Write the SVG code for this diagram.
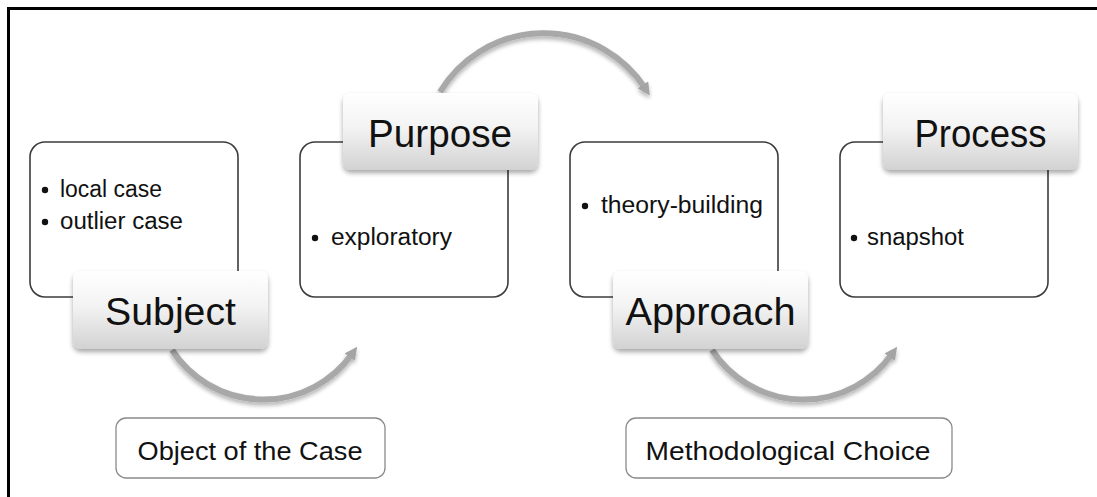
<svg xmlns="http://www.w3.org/2000/svg" width="1097" height="497" viewBox="0 0 1097 497">
<defs>
<linearGradient id="lblGrad" x1="0" y1="0" x2="0" y2="1">
<stop offset="0" stop-color="#ffffff"/>
<stop offset="0.45" stop-color="#f3f3f3"/>
<stop offset="1" stop-color="#d2d2d2"/>
</linearGradient>
<filter id="shadow" x="-10%" y="-10%" width="120%" height="130%">
<feGaussianBlur in="SourceAlpha" stdDeviation="2.5"/>
<feOffset dx="0" dy="3" result="b"/>
<feComponentTransfer><feFuncA type="linear" slope="0.35"/></feComponentTransfer>
<feMerge><feMergeNode/><feMergeNode in="SourceGraphic"/></feMerge>
</filter>
<filter id="arrowShadow" x="-20%" y="-20%" width="140%" height="160%">
<feGaussianBlur in="SourceAlpha" stdDeviation="2"/>
<feOffset dx="0" dy="3" result="b"/>
<feComponentTransfer><feFuncA type="linear" slope="0.3"/></feComponentTransfer>
<feMerge><feMergeNode/><feMergeNode in="SourceGraphic"/></feMerge>
</filter>
<marker id="head" viewBox="0 0 10 10" refX="3" refY="5" markerWidth="2.1" markerHeight="2.1" orient="auto">
<path d="M0,0 L10,5 L0,10 z" fill="#a4a4a4"/>
</marker>
</defs>
<style>
.frame{fill:none;stroke:#000;stroke-width:3}
.box{fill:#fff;stroke:#3c3c3c;stroke-width:1.6}
.lbl{fill:url(#lblGrad);filter:url(#shadow)}
.big{font-family:"Liberation Sans",Arial,sans-serif;font-size:39px;fill:#111;text-anchor:middle}
.item{font-family:"Liberation Sans",Arial,sans-serif;font-size:23px;fill:#111}
.cap{font-family:"Liberation Sans",Arial,sans-serif;font-size:26px;fill:#111;text-anchor:middle}
.sub{fill:#fff;stroke:#8a8a8a;stroke-width:1.3}
.arc{fill:none;stroke:#a8a8a8;stroke-width:6;marker-end:url(#head)}
</style>
<rect x="0" y="0" width="1097" height="497" fill="#fff"/>
<path class="frame" d="M8.5,497 L8.5,8.5 L1097,8.5"/>

<g id="subject-items">
<rect class="box" x="30" y="142" width="208" height="155" rx="15"/>
<circle cx="45" cy="190" r="3.2" fill="#111"/>
<text class="item" x="60" y="197" textLength="102" lengthAdjust="spacingAndGlyphs">local case</text>
<circle cx="45" cy="222" r="3.2" fill="#111"/>
<text class="item" x="60" y="229" textLength="123" lengthAdjust="spacingAndGlyphs">outlier case</text>
</g>
<g id="purpose-items">
<rect class="box" x="300" y="142" width="208" height="155" rx="15"/>
<circle cx="315" cy="238" r="3.2" fill="#111"/>
<text class="item" x="331" y="245" textLength="121" lengthAdjust="spacingAndGlyphs">exploratory</text>
</g>
<g id="approach-items">
<rect class="box" x="570" y="142" width="208" height="155" rx="15"/>
<circle cx="585" cy="206" r="3.2" fill="#111"/>
<text class="item" x="601" y="213" textLength="162" lengthAdjust="spacingAndGlyphs">theory-building</text>
</g>
<g id="process-items">
<rect class="box" x="840" y="142" width="208" height="155" rx="15"/>
<circle cx="854" cy="238" r="3.2" fill="#111"/>
<text class="item" x="867" y="245" textLength="97" lengthAdjust="spacingAndGlyphs">snapshot</text>
</g>

<g id="connectors" filter="url(#arrowShadow)">
<path class="arc" d="M172,350 A109,109 0 0 0 352,354"/>
<path class="arc" d="M440,92 A121,121 0 0 1 645,88"/>
<path class="arc" d="M712,350 A109,109 0 0 0 892,354"/>
</g>

<g id="subject">
<rect class="lbl" x="73" y="271" width="195" height="78" rx="8"/>
<text class="big" x="170.5" y="325" textLength="131" lengthAdjust="spacingAndGlyphs">Subject</text>
</g>
<g id="purpose">
<rect class="lbl" x="343" y="93" width="195" height="77" rx="8"/>
<text class="big" x="440" y="147" textLength="144" lengthAdjust="spacingAndGlyphs">Purpose</text>
</g>
<g id="approach">
<rect class="lbl" x="613" y="271" width="195" height="78" rx="8"/>
<text class="big" x="710.5" y="325" textLength="170" lengthAdjust="spacingAndGlyphs">Approach</text>
</g>
<g id="process">
<rect class="lbl" x="883" y="93" width="195" height="77" rx="8"/>
<text class="big" x="980.5" y="147" textLength="132" lengthAdjust="spacingAndGlyphs">Process</text>
</g>

<g id="object-of-the-case">
<rect class="sub" x="116" y="418" width="269" height="60" rx="10"/>
<text class="cap" x="250" y="460" textLength="225" lengthAdjust="spacingAndGlyphs">Object of the Case</text>
</g>
<g id="methodological-choice">
<rect class="sub" x="626" y="418" width="326" height="60" rx="10"/>
<text class="cap" x="788" y="460" textLength="285" lengthAdjust="spacingAndGlyphs">Methodological Choice</text>
</g>
</svg>
